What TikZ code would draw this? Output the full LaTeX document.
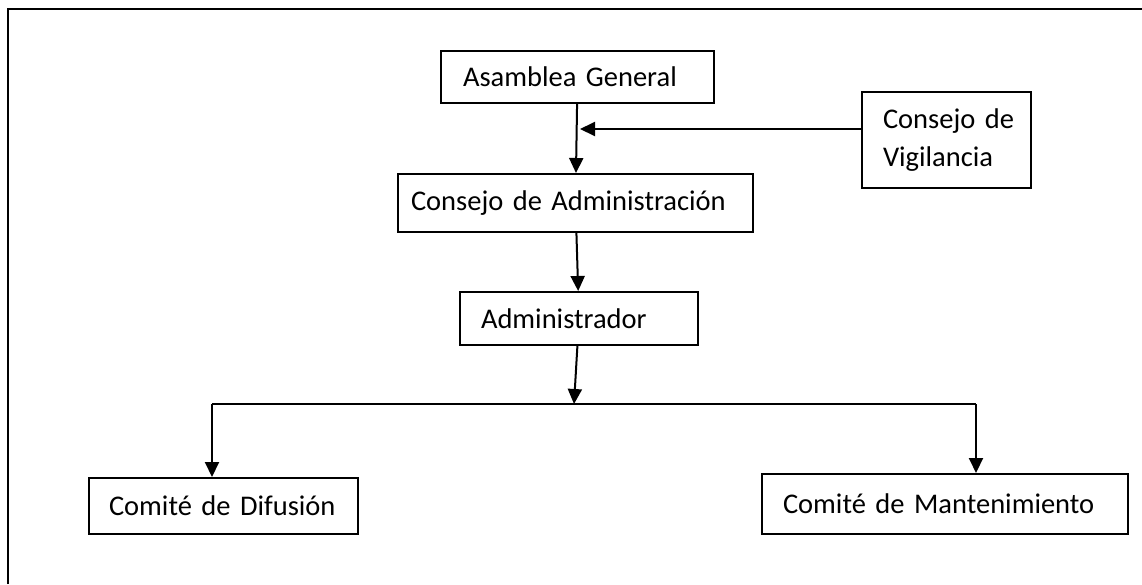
\documentclass[tikz,border=0pt]{standalone}
\usepackage{fontspec}
\setmainfont{Carlito}
\usepackage{tikz}
\usetikzlibrary{arrows.meta,calc}

\begin{document}
\begin{tikzpicture}[x=1pt,y=-1pt,
		orgbox/.style={draw,line width=2pt,anchor=north west,align=left,font=\fontsize{28.5}{38}\selectfont},
		arr/.style={line width=2pt,-{Triangle[length=15pt,width=14pt]}}]
		\useasboundingbox (0,0) rectangle (1142,584);
		% frame
		\draw[line width=2.8pt] (8,584) -- (8,9) -- (1142,9);
		% boxes
		\node[orgbox,inner xsep=22pt,text width=229pt,minimum height=52pt] (asamblea) at (440,50) {\mbox{Asamblea General}};
		\node[orgbox,inner xsep=21pt,text width=127pt,minimum height=96pt] (vigilancia) at (861,91) {\mbox{Consejo de}\\Vigilancia};
		\node[orgbox,inner xsep=13pt,text width=329pt,minimum height=58pt] (consejo) at (397,173) {\mbox{Consejo de Administración}};
		\node[orgbox,inner xsep=21pt,text width=196pt,minimum height=53pt] (admin) at (459,291) {Administrador};
		\node[orgbox,inner xsep=20pt,text width=229pt,minimum height=56pt] (difusion) at (88,477) {\mbox{Comité de Difusión}};
		\node[orgbox,inner xsep=21pt,text width=324pt,minimum height=60pt] (mantenim) at (761,473) {\mbox{Comité de Mantenimiento}};
		% connectors
		\coordinate (vtip) at (580,129);
		\coordinate (bus) at (574,404);
		\coordinate (busL) at (212,404);
		\coordinate (busR) at (976,404);
		\draw[arr] (asamblea) -- (consejo);
		\draw[arr] (vigilancia.west |- vtip) -- (vtip);
		\draw[arr] (consejo) -- (admin);
		\draw[arr] (admin) -- (bus);
		\draw[line width=2pt] (busL) -- (busR);
		\draw[arr] (busL) -- (busL |- difusion.north);
		\draw[arr] (busR) -- (busR |- mantenim.north);
	\end{tikzpicture}
\end{document}
